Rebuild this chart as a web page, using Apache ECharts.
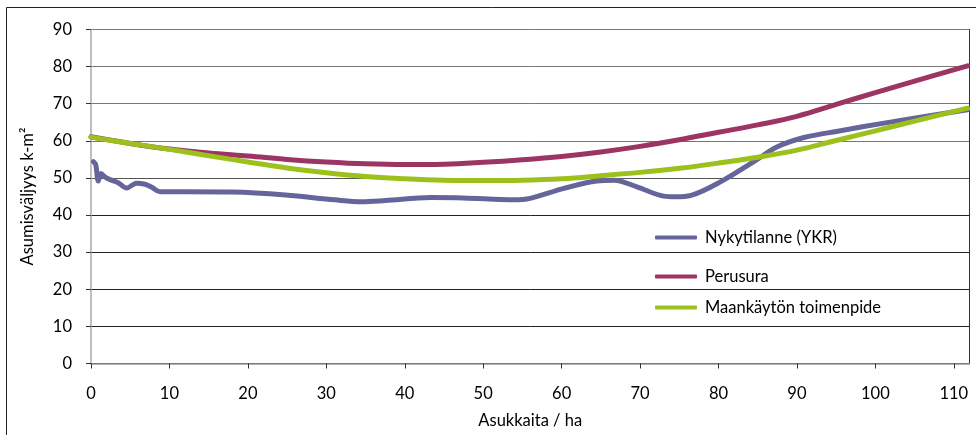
<!DOCTYPE html>
<html>
<head>
<meta charset="utf-8">
<script src="https://cdn.jsdelivr.net/npm/echarts@6/dist/echarts.min.js"></script>
<style>
  html, body { margin: 0; padding: 0; background: #fff; }
  #chart { width: 976px; height: 435px; }
</style>
</head>
<body>
<div id="chart"></div>
<script>
// Series names
const seriesNames = ['Nykytilanne (YKR)', 'Perusura', 'Maankäytön toimenpide'];

// Nykytilanne (YKR): residents per hectare vs. floor area per resident
const ykrX = [0.3, 0.6, 0.93, 1.28, 1.8, 2.6, 3.45, 4.55, 5.8, 6.9, 7.75, 8.8, 12, 18, 24.8, 31.1, 34.5, 37.5, 43.3, 47.5, 53.9, 56, 60.3, 64.5, 66.7, 69.6, 73, 74.5, 76.5, 80.3, 84.5, 87.5, 90.9, 95.2, 101.5, 111.75];
const ykrY = [54.4, 53.6, 49.2, 51.2, 50.2, 49.4, 48.7, 47.3, 48.6, 48.3, 47.5, 46.3, 46.3, 46.2, 45.4, 44.1, 43.6, 43.9, 44.7, 44.6, 44.1, 44.5, 47.2, 49.2, 49.4, 47.6, 45.1, 44.9, 45.3, 49.0, 54.4, 58.4, 60.9, 62.6, 64.9, 68.4];

// Perusura
const baseX = [0, 5, 10, 15, 20, 25, 30, 35, 40, 45, 50, 55, 60, 65, 70, 75, 80, 85, 90, 95, 100, 105, 111.75];
const baseY = [61.1, 59.3, 57.8, 56.7, 55.9, 55.0, 54.3, 53.8, 53.6, 53.7, 54.2, 54.9, 55.8, 57.0, 58.5, 60.3, 62.3, 64.3, 66.6, 69.8, 73.0, 76.1, 80.2];

// Maankäytön toimenpide
const landX = [0, 5, 10, 15, 20, 25, 30, 35, 40, 45, 50, 55, 60, 65, 70, 75, 80, 85, 90, 95, 100, 105, 111.75];
const landY = [61.0, 59.3, 57.7, 56.0, 54.3, 52.7, 51.4, 50.4, 49.8, 49.4, 49.3, 49.4, 49.8, 50.6, 51.5, 52.6, 54.0, 55.6, 57.5, 60.1, 62.7, 65.3, 68.8];

// Axis settings
const xMin = 0, xMax = 112, xStep = 10;
const yMin = 0, yMax = 90, yStep = 10;
const xTitle = 'Asukkaita / ha';
const yTitle = 'Asumisväljyys k-m²';

const colors = ['#65659B', '#9C3464', '#9CC11C'];
const zip = (xs, ys) => xs.map((x, i) => [x, ys[i]]);

const FONT = 'Lato, "DejaVu Sans", sans-serif';
const FS = 16.5;
const chart = echarts.init(document.getElementById('chart'), null, { renderer: 'canvas' });

function legendFor(name, top) {
  return {
    data: [name],
    left: 655,
    top: top,
    icon: 'roundRect',
    itemWidth: 42,
    itemHeight: 4,
    itemGap: 0,
    padding: 0,
    textStyle: { fontFamily: FONT, fontSize: FS, color: '#000', padding: [0, 0, 0, 3] }
  };
}

chart.setOption({
  animation: false,
  color: colors,
  graphic: [{
    type: 'rect',
    shape: { x: 6.5, y: 7.5, width: 1000, height: 1000 },
    style: { fill: 'none', stroke: '#222', lineWidth: 1 },
    silent: true
  }],
  grid: { left: 91, right: 6.5, top: 29.5, bottom: 71.5, containLabel: false },
  legend: [
    legendFor(seriesNames[0], 229),
    legendFor(seriesNames[1], 268),
    legendFor(seriesNames[2], 299)
  ],
  xAxis: {
    type: 'value',
    min: xMin, max: xMax, interval: xStep,
    name: xTitle,
    nameLocation: 'middle',
    nameGap: 49,
    nameTextStyle: { fontFamily: FONT, fontSize: FS, color: '#000' },
    axisLine: { show: true, lineStyle: { color: '#999', width: 1.5 } },
    axisTick: { show: true, length: 5, lineStyle: { color: '#333' } },
    axisLabel: { fontFamily: FONT, fontSize: FS, color: '#000', margin: 22, showMaxLabel: false },
    splitLine: { show: false }
  },
  yAxis: [{
    type: 'value',
    min: yMin, max: yMax, interval: yStep,
    name: yTitle,
    nameLocation: 'middle',
    nameGap: 55,
    nameTextStyle: { fontFamily: FONT, fontSize: FS, color: '#000' },
    axisLine: { show: true, lineStyle: { color: '#aaa', width: 1.5 } },
    axisTick: { show: true, length: 5, lineStyle: { color: '#333' } },
    axisLabel: { fontFamily: FONT, fontSize: FS, color: '#000', margin: 19 },
    splitLine: {
      show: true,
      lineStyle: { color: ['#222', '#222', '#222', '#222', '#222', '#555', '#777', '#777', '#777', '#777'], width: 1 }
    }
  }, {
    type: 'value',
    min: yMin, max: yMax, interval: yStep,
    position: 'right',
    axisLine: { show: true, lineStyle: { color: '#333', width: 1 } },
    axisTick: { show: false },
    axisLabel: { show: false },
    splitLine: { show: false }
  }],
  series: [
    {
      name: seriesNames[0], type: 'line', data: zip(ykrX, ykrY),
      smooth: 0.35, showSymbol: false, z: 3,
      lineStyle: { width: 5, color: colors[0], cap: 'round', join: 'round' }
    },
    {
      name: seriesNames[1], type: 'line', data: zip(baseX, baseY),
      smooth: 0.4, showSymbol: false, z: 4,
      lineStyle: { width: 5, color: colors[1], cap: 'round', join: 'round' }
    },
    {
      name: seriesNames[2], type: 'line', data: zip(landX, landY),
      smooth: 0.4, showSymbol: false, z: 5,
      lineStyle: { width: 5, color: colors[2], cap: 'round', join: 'round' }
    }
  ]
});
</script>
</body>
</html>
